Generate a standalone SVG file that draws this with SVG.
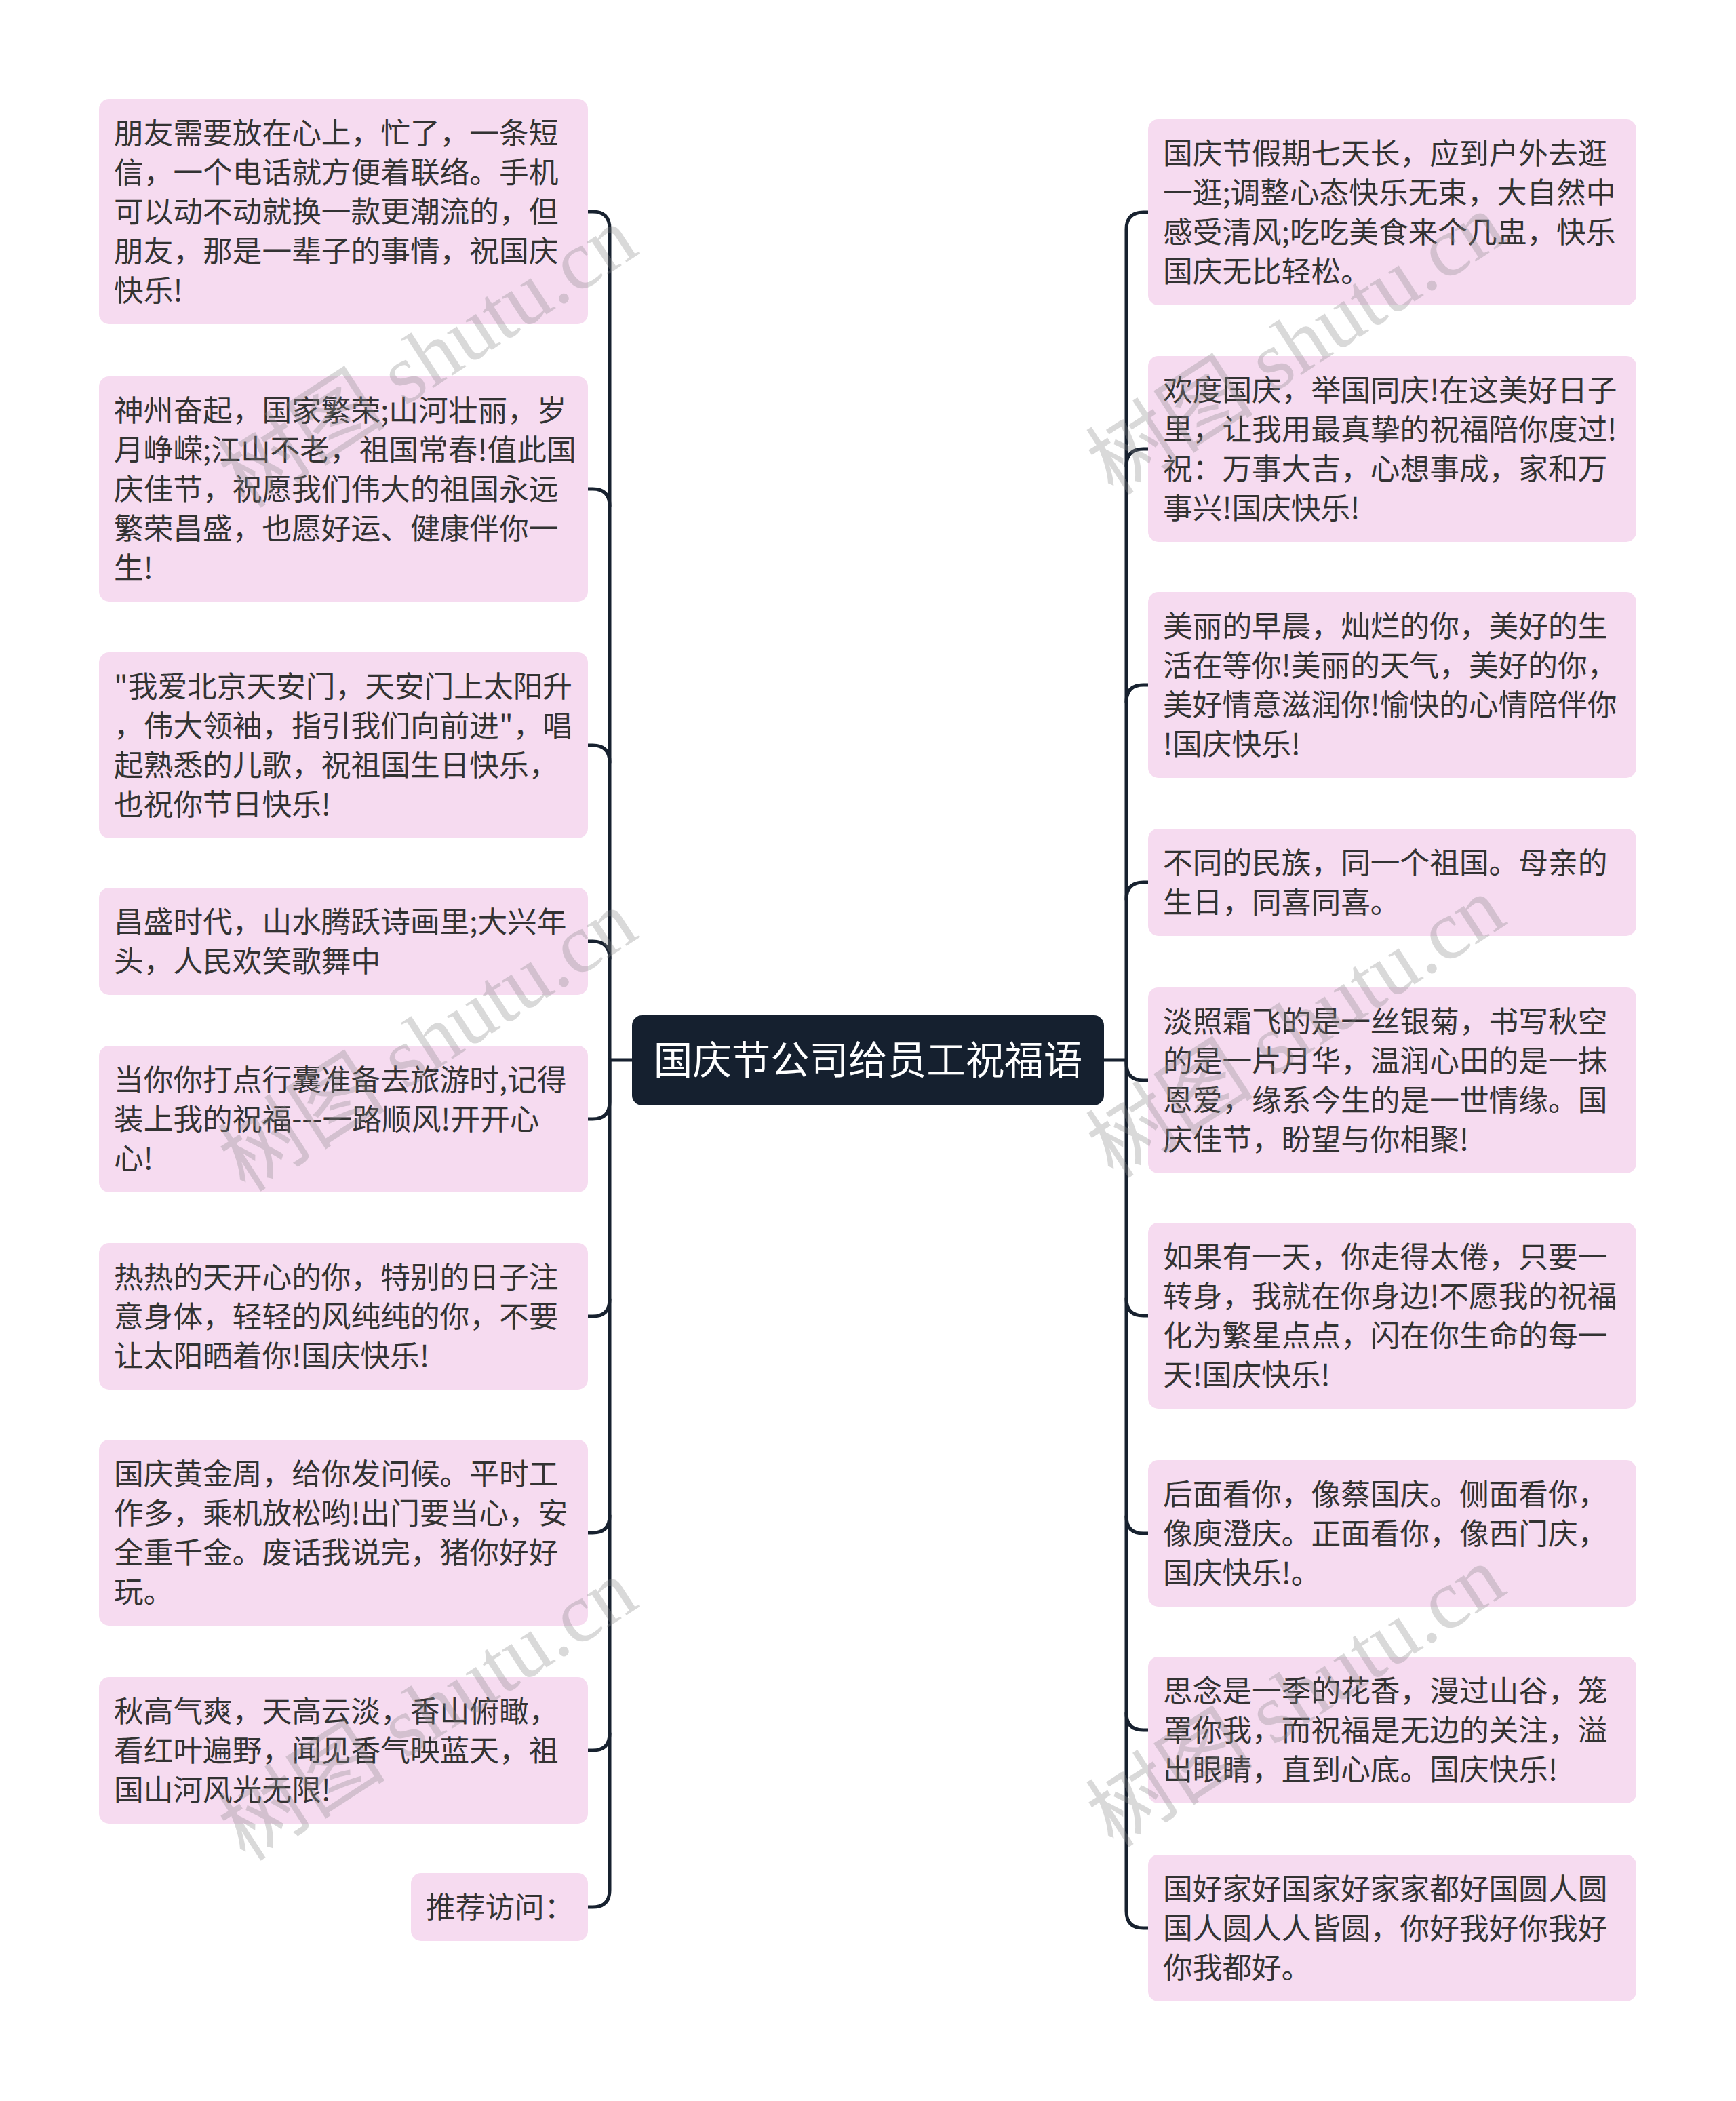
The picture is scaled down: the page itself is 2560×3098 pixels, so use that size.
<svg xmlns="http://www.w3.org/2000/svg" width="2560" height="3098" viewBox="0 0 2560 3098">
<style>
.bg{fill:#ffffff}
.box{fill:#f6dbf0}
.t{font-family:"Noto Sans CJK SC","Noto Sans",sans-serif;font-size:43.7px;fill:#333333}
.ct{font-family:"Noto Sans CJK SC","Noto Sans",sans-serif;font-size:57.5px;fill:#ffffff}
.ln{fill:none;stroke:#17212f;stroke-width:5;stroke-linecap:round;stroke-linejoin:round}
.wm{font-family:"Liberation Serif","Noto Sans CJK SC",serif;font-size:124px;fill:#8a8a8a;fill-opacity:0.32}
</style>
<rect class="bg" x="0" y="0" width="2560" height="3098"/>
<g id="connectors">
<path class="ln" d="M932 1563 H899 V337 Q899 312 874 312 H867"/>
<path class="ln" d="M899 746 Q899 721 874 721 H867"/>
<path class="ln" d="M899 1124 Q899 1099 874 1099 H867"/>
<path class="ln" d="M899 1413 Q899 1388 874 1388 H867"/>
<path class="ln" d="M899 1563 V1625 Q899 1650 874 1650 H867"/>
<path class="ln" d="M899 1563 V2787 Q899 2812 874 2812 H867"/>
<path class="ln" d="M899 1916 Q899 1941 874 1941 H867"/>
<path class="ln" d="M899 2235 Q899 2260 874 2260 H867"/>
<path class="ln" d="M899 2556 Q899 2581 874 2581 H867"/>
<path class="ln" d="M1628 1563 H1661 V338 Q1661 313 1686 313 H1693"/>
<path class="ln" d="M1661 687 Q1661 662 1686 662 H1693"/>
<path class="ln" d="M1661 1035 Q1661 1010 1686 1010 H1693"/>
<path class="ln" d="M1661 1326 Q1661 1301 1686 1301 H1693"/>
<path class="ln" d="M1661 1563 V1568 Q1661 1593 1686 1593 H1693"/>
<path class="ln" d="M1661 1563 V2818 Q1661 2843 1686 2843 H1693"/>
<path class="ln" d="M1661 1915 Q1661 1940 1686 1940 H1693"/>
<path class="ln" d="M1661 2236 Q1661 2261 1686 2261 H1693"/>
<path class="ln" d="M1661 2526 Q1661 2551 1686 2551 H1693"/>
</g>
<g id="center">
<rect x="932" y="1497" width="696" height="133" rx="15" fill="#15202f"/>
<text class="ct" x="1280" y="1584" text-anchor="middle">国庆节公司给员工祝福语</text>
</g>
<g id="L1">
<rect class="box" x="146" y="146" width="721" height="332" rx="15"/>
<text class="t" x="168" y="212"><tspan x="168">朋友需要放在心上，忙了，一条短</tspan><tspan x="168" dy="58">信，一个电话就方便着联络。手机</tspan><tspan x="168" dy="58">可以动不动就换一款更潮流的，但</tspan><tspan x="168" dy="58">朋友，那是一辈子的事情，祝国庆</tspan><tspan x="168" dy="58">快乐!</tspan></text>
</g>
<g id="L2">
<rect class="box" x="146" y="555" width="721" height="332" rx="15"/>
<text class="t" x="168" y="621"><tspan x="168">神州奋起，国家繁荣;山河壮丽，岁</tspan><tspan x="168" dy="58">月峥嵘;江山不老，祖国常春!值此国</tspan><tspan x="168" dy="58">庆佳节，祝愿我们伟大的祖国永远</tspan><tspan x="168" dy="58">繁荣昌盛，也愿好运、健康伴你一</tspan><tspan x="168" dy="58">生!</tspan></text>
</g>
<g id="L3">
<rect class="box" x="146" y="962" width="721" height="274" rx="15"/>
<text class="t" x="168" y="1028"><tspan x="168">"我爱北京天安门，天安门上太阳升</tspan><tspan x="168" dy="58">，伟大领袖，指引我们向前进"，唱</tspan><tspan x="168" dy="58">起熟悉的儿歌，祝祖国生日快乐，</tspan><tspan x="168" dy="58">也祝你节日快乐!</tspan></text>
</g>
<g id="L4">
<rect class="box" x="146" y="1309" width="721" height="158" rx="15"/>
<text class="t" x="168" y="1375"><tspan x="168">昌盛时代，山水腾跃诗画里;大兴年</tspan><tspan x="168" dy="58">头，人民欢笑歌舞中</tspan></text>
</g>
<g id="L5">
<rect class="box" x="146" y="1542" width="721" height="216" rx="15"/>
<text class="t" x="168" y="1608"><tspan x="168">当你你打点行囊准备去旅游时,记得</tspan><tspan x="168" dy="58">装上我的祝福---一路顺风!开开心</tspan><tspan x="168" dy="58">心!</tspan></text>
</g>
<g id="L6">
<rect class="box" x="146" y="1833" width="721" height="216" rx="15"/>
<text class="t" x="168" y="1899"><tspan x="168">热热的天开心的你，特别的日子注</tspan><tspan x="168" dy="58">意身体，轻轻的风纯纯的你，不要</tspan><tspan x="168" dy="58">让太阳晒着你!国庆快乐!</tspan></text>
</g>
<g id="L7">
<rect class="box" x="146" y="2123" width="721" height="274" rx="15"/>
<text class="t" x="168" y="2189"><tspan x="168">国庆黄金周，给你发问候。平时工</tspan><tspan x="168" dy="58">作多，乘机放松哟!出门要当心，安</tspan><tspan x="168" dy="58">全重千金。废话我说完，猪你好好</tspan><tspan x="168" dy="58">玩。</tspan></text>
</g>
<g id="L8">
<rect class="box" x="146" y="2473" width="721" height="216" rx="15"/>
<text class="t" x="168" y="2539"><tspan x="168">秋高气爽，天高云淡，香山俯瞰，</tspan><tspan x="168" dy="58">看红叶遍野，闻见香气映蓝天，祖</tspan><tspan x="168" dy="58">国山河风光无限!</tspan></text>
</g>
<g id="L9">
<rect class="box" x="606" y="2762" width="261" height="100" rx="15"/>
<text class="t" x="628" y="2828">推荐访问：</text>
</g>
<g id="R1">
<rect class="box" x="1693" y="176" width="720" height="274" rx="15"/>
<text class="t" x="1715" y="242"><tspan x="1715">国庆节假期七天长，应到户外去逛</tspan><tspan x="1715" dy="58">一逛;调整心态快乐无束，大自然中</tspan><tspan x="1715" dy="58">感受清风;吃吃美食来个几盅，快乐</tspan><tspan x="1715" dy="58">国庆无比轻松。</tspan></text>
</g>
<g id="R2">
<rect class="box" x="1693" y="525" width="720" height="274" rx="15"/>
<text class="t" x="1715" y="591"><tspan x="1715">欢度国庆，举国同庆!在这美好日子</tspan><tspan x="1715" dy="58">里，让我用最真挚的祝福陪你度过!</tspan><tspan x="1715" dy="58">祝：万事大吉，心想事成，家和万</tspan><tspan x="1715" dy="58">事兴!国庆快乐!</tspan></text>
</g>
<g id="R3">
<rect class="box" x="1693" y="873" width="720" height="274" rx="15"/>
<text class="t" x="1715" y="939"><tspan x="1715">美丽的早晨，灿烂的你，美好的生</tspan><tspan x="1715" dy="58">活在等你!美丽的天气，美好的你，</tspan><tspan x="1715" dy="58">美好情意滋润你!愉快的心情陪伴你</tspan><tspan x="1715" dy="58">!国庆快乐!</tspan></text>
</g>
<g id="R4">
<rect class="box" x="1693" y="1222" width="720" height="158" rx="15"/>
<text class="t" x="1715" y="1288"><tspan x="1715">不同的民族，同一个祖国。母亲的</tspan><tspan x="1715" dy="58">生日，同喜同喜。</tspan></text>
</g>
<g id="R5">
<rect class="box" x="1693" y="1456" width="720" height="274" rx="15"/>
<text class="t" x="1715" y="1522"><tspan x="1715">淡照霜飞的是一丝银菊，书写秋空</tspan><tspan x="1715" dy="58">的是一片月华，温润心田的是一抹</tspan><tspan x="1715" dy="58">恩爱，缘系今生的是一世情缘。国</tspan><tspan x="1715" dy="58">庆佳节，盼望与你相聚!</tspan></text>
</g>
<g id="R6">
<rect class="box" x="1693" y="1803" width="720" height="274" rx="15"/>
<text class="t" x="1715" y="1869"><tspan x="1715">如果有一天，你走得太倦，只要一</tspan><tspan x="1715" dy="58">转身，我就在你身边!不愿我的祝福</tspan><tspan x="1715" dy="58">化为繁星点点，闪在你生命的每一</tspan><tspan x="1715" dy="58">天!国庆快乐!</tspan></text>
</g>
<g id="R7">
<rect class="box" x="1693" y="2153" width="720" height="216" rx="15"/>
<text class="t" x="1715" y="2219"><tspan x="1715">后面看你，像蔡国庆。侧面看你，</tspan><tspan x="1715" dy="58">像庾澄庆。正面看你，像西门庆，</tspan><tspan x="1715" dy="58">国庆快乐!。</tspan></text>
</g>
<g id="R8">
<rect class="box" x="1693" y="2443" width="720" height="216" rx="15"/>
<text class="t" x="1715" y="2509"><tspan x="1715">思念是一季的花香，漫过山谷，笼</tspan><tspan x="1715" dy="58">罩你我，而祝福是无边的关注，溢</tspan><tspan x="1715" dy="58">出眼睛，直到心底。国庆快乐!</tspan></text>
</g>
<g id="R9">
<rect class="box" x="1693" y="2735" width="720" height="216" rx="15"/>
<text class="t" x="1715" y="2801"><tspan x="1715">国好家好国家好家家都好国圆人圆</tspan><tspan x="1715" dy="58">国人圆人人皆圆，你好我好你我好</tspan><tspan x="1715" dy="58">你我都好。</tspan></text>
</g>
<g id="watermarks">
<text class="wm" transform="translate(654 562) rotate(-33)" text-anchor="middle">树图 shutu.cn</text>
<text class="wm" transform="translate(654 1570) rotate(-33)" text-anchor="middle">树图 shutu.cn</text>
<text class="wm" transform="translate(654 2557) rotate(-33)" text-anchor="middle">树图 shutu.cn</text>
<text class="wm" transform="translate(1934 543) rotate(-33)" text-anchor="middle">树图 shutu.cn</text>
<text class="wm" transform="translate(1934 1550) rotate(-33)" text-anchor="middle">树图 shutu.cn</text>
<text class="wm" transform="translate(1934 2537) rotate(-33)" text-anchor="middle">树图 shutu.cn</text>
</g>
</svg>
